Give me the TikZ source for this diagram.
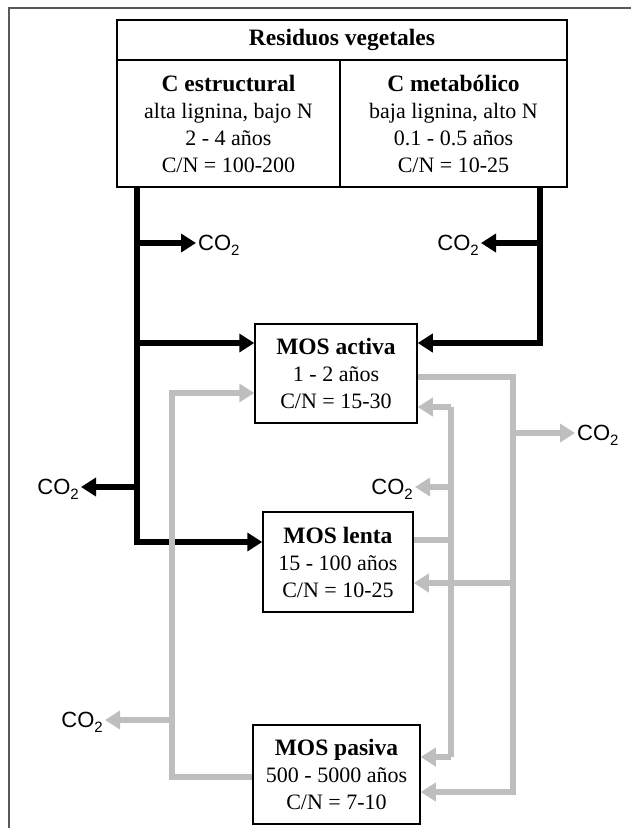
\documentclass[tikz,border=0pt]{standalone}
\usepackage{fontspec}
\setmainfont{Liberation Serif}
\newfontfamily\cofont{Liberation Sans}
\usepackage{tikz}
\usetikzlibrary{arrows.meta}
\newcommand{\cotwo}{{\cofont CO\raisebox{-0.45ex}{\fontsize{15}{15}\selectfont 2}}}
\newcommand{\hd}[1]{{\fontsize{23.5}{27}\selectfont\bfseries #1}}
\definecolor{flowgray}{RGB}{190,190,190}
\tikzset{
  pool/.style={draw, line width=1.5pt, align=center, inner sep=0pt,
    font=\fontsize{22}{27}\selectfont},
  gas/.style={inner sep=2pt, text depth=0pt, font=\fontsize{22}{26}\selectfont},
  bflow/.style={line width=5.5pt, black, -{Triangle[length=15pt,width=18pt]}},
  gflow/.style={line width=5.5pt, flowgray, -{Triangle[length=15pt,width=18pt]}},
  gline/.style={line width=5.5pt, flowgray}
}
\begin{document}
\begin{tikzpicture}[x=1pt, y=-1pt]
    \useasboundingbox (0,0) rectangle (631,828);
    \draw [line width=1.5pt, black!65] (9,828) -- (9,8) -- (631,8);
    \node [pool, minimum width=450pt, minimum height=40pt] (res) at (342,40) {\hd{Residuos vegetales}};
    \node [pool, minimum width=223pt, minimum height=127pt] (estr) at (228.5,123.5)
      {\hd{C estructural}\\alta lignina, bajo N\\2 - 4 años\\C/N = 100-200};
    \node [pool, minimum width=227pt, minimum height=127pt] (meta) at (453.5,123.5)
      {\hd{C metabólico}\\baja lignina, alto N\\0.1 - 0.5 años\\C/N = 10-25};
    \node [pool, minimum width=162pt, minimum height=99pt] (activa) at (336,373.5)
      {\hd{MOS activa}\\1 - 2 años\\C/N = 15-30};
    \node [pool, minimum width=150pt, minimum height=100pt] (lenta) at (338,562)
      {\hd{MOS lenta}\\15 - 100 años\\C/N = 10-25};
    \node [pool, minimum width=167pt, minimum height=99pt] (pasiva) at (336.5,774.5)
      {\hd{MOS pasiva}\\500 - 5000 años\\C/N = 7-10};
    \node [gas, anchor=west] (co2a) at (196,243) {\cotwo};
    \node [gas, anchor=east] (co2b) at (481,243) {\cotwo};
    \node [gas, anchor=east] (co2c) at (81,487) {\cotwo};
    \node [gas, anchor=west] (co2d) at (575,433) {\cotwo};
    \node [gas, anchor=east] (co2e) at (415,487) {\cotwo};
    \node [gas, anchor=east] (co2f) at (105,720) {\cotwo};
    \coordinate (bL) at (137,187);
    \coordinate (bR) at (540,187);
    \coordinate (gL) at (172,393);
    \coordinate (gO) at (513,792);
    \coordinate (gI1) at (451,407);
    \coordinate (gI2) at (451,757);
    \draw [bflow] (bL) |- ([yshift=20pt]lenta.west);
    \draw [bflow] (137,343) -- ([yshift=30.5pt]activa.west);
    \draw [bflow] (137,243) -- (co2a.west);
    \draw [bflow] (137,487) -- (co2c.east);
    \draw [bflow] (bR) |- ([yshift=30.5pt]activa.east);
    \draw [bflow] (540,243) -- (co2b.east);
    \draw [gflow] ([yshift=-2.5pt]pasiva.west) -| (gL) -- ([yshift=-19.5pt]activa.west);
    \draw [gflow] (172,720) -- (co2f.east);
    \draw [gflow] ([yshift=-3.5pt]activa.east) -| (gO) -- ([yshift=-17.5pt]pasiva.east);
    \draw [gflow] (513,583) -- ([yshift=-21pt]lenta.east);
    \draw [gflow] (513,433) -- (co2d.west);
    \draw [gline] (gI1) -- (gI2);
    \draw [gline] ([yshift=22pt]lenta.east) -- (451,540);
    \draw [gflow] (gI1) -- ([yshift=-33.5pt]activa.east);
    \draw [gflow] (gI2) -- ([yshift=17.5pt]pasiva.east);
    \draw [gflow] (451,487) -- (co2e.east);
\end{tikzpicture}
\end{document}
